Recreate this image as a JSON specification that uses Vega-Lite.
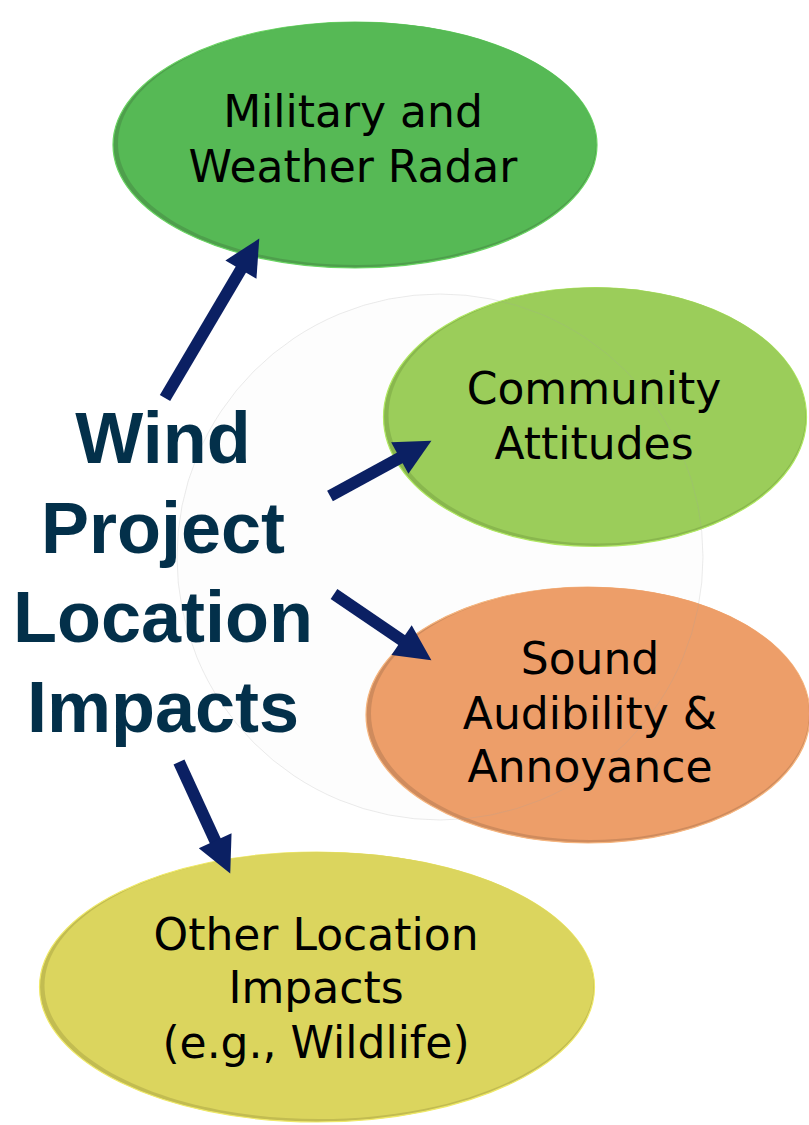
{
  "$schema": "https://vega.github.io/schema/vega-lite/v6.json",
  "width": 809,
  "height": 1125,
  "autosize": "none",
  "padding": 0,
  "background": "white",
  "config": {"view": {"stroke": null}},
  "datasets": {
    "nodes": [
      {"node": "Military", "x": 355, "y": 145},
      {"node": "Community", "x": 595, "y": 417},
      {"node": "Sound", "x": 588, "y": 715},
      {"node": "Other", "x": 317, "y": 987}
    ],
    "frame": [{"x": 440, "y": 557}],
    "arrows": [
      {"target": "Military", "x": 165, "y": 398, "x2": 243.7, "y2": 264.8, "hx": 250.1, "hy": 254.1, "angle": 30.6},
      {"target": "Community", "x": 330, "y": 496, "x2": 404.7, "y2": 455.3, "hx": 415.6, "hy": 449.4, "angle": 61.4},
      {"target": "Sound", "x": 334, "y": 594, "x2": 406.2, "y2": 643.1, "hx": 416.5, "hy": 650.2, "angle": 124.2},
      {"target": "Other", "x": 179, "y": 762, "x2": 217.5, "y2": 845.8, "hx": 222.7, "hy": 857.1, "angle": 155.3}
    ],
    "labels": [
      {"text": "Military and", "x": 353, "y": 127},
      {"text": "Weather Radar", "x": 353, "y": 182},
      {"text": "Community", "x": 594, "y": 404},
      {"text": "Attitudes", "x": 594, "y": 459},
      {"text": "Sound", "x": 590, "y": 674},
      {"text": "Audibility &", "x": 590, "y": 729},
      {"text": "Annoyance", "x": 590, "y": 782},
      {"text": "Other Location", "x": 316, "y": 950},
      {"text": "Impacts", "x": 316, "y": 1003},
      {"text": "(e.g., Wildlife)", "x": 316, "y": 1058}
    ],
    "title": [
      {"text": "Wind", "x": 163, "y": 463},
      {"text": "Project", "x": 163, "y": 553},
      {"text": "Location", "x": 163, "y": 642},
      {"text": "Impacts", "x": 163, "y": 732}
    ]
  },
  "encoding": {
    "x": {"field": "x", "type": "quantitative", "scale": {"domain": [0, 809], "nice": false, "zero": false}, "axis": null},
    "y": {"field": "y", "type": "quantitative", "scale": {"domain": [0, 1125], "nice": false, "zero": false, "reverse": true}, "axis": null}
  },
  "resolve": {"scale": {"shape": "independent", "fill": "independent", "stroke": "independent"}},
  "layer": [
    {
      "data": {"name": "frame"},
      "mark": {"type": "point", "shape": "circle", "size": 276676, "filled": true, "fill": "#fcfcfc", "strokeWidth": 0}
    },
    {
      "data": {"name": "nodes"},
      "mark": {"type": "point", "filled": true, "opacity": 1, "strokeWidth": 1.2, "size": 360000},
      "encoding": {
        "shape": {"field": "node", "type": "nominal", "legend": null, "scale": {"domain": ["Military", "Community", "Sound", "Other"], "range": ["M-0.80667,0A0.80667,0.41,0,1,1,0.80667,0A0.80667,0.41,0,1,1,-0.80667,0Z", "M-0.705,0A0.705,0.43167,0,1,1,0.705,0A0.705,0.43167,0,1,1,-0.705,0Z", "M-0.74,0A0.74,0.42667,0,1,1,0.74,0A0.74,0.42667,0,1,1,-0.74,0Z", "M-0.925,0A0.925,0.45,0,1,1,0.925,0A0.925,0.45,0,1,1,-0.925,0Z"]}},
        "fill": {"field": "node", "type": "nominal", "legend": null, "scale": {"domain": ["Military", "Community", "Sound", "Other"], "range": ["#4e9f4c", "#89b74e", "#cf8b5d", "#c2bc51"]}},
        "stroke": {"field": "node", "type": "nominal", "legend": null, "scale": {"domain": ["Military", "Community", "Sound", "Other"], "range": ["#6ad563", "#b0e862", "#f6b57e", "#efe968"]}}
      }
    },
    {
      "data": {"name": "nodes"},
      "mark": {"type": "point", "filled": true, "opacity": 1, "strokeWidth": 0, "size": 360000, "xOffset": 2, "yOffset": -1.5},
      "encoding": {
        "shape": {"field": "node", "type": "nominal", "legend": null, "scale": {"domain": ["Military", "Community", "Sound", "Other"], "range": ["M-0.79667,0A0.79667,0.405,0,1,1,0.79667,0A0.79667,0.405,0,1,1,-0.79667,0Z", "M-0.695,0A0.695,0.42667,0,1,1,0.695,0A0.695,0.42667,0,1,1,-0.695,0Z", "M-0.73,0A0.73,0.42167,0,1,1,0.73,0A0.73,0.42167,0,1,1,-0.73,0Z", "M-0.915,0A0.915,0.445,0,1,1,0.915,0A0.915,0.445,0,1,1,-0.915,0Z"]}},
        "fill": {"field": "node", "type": "nominal", "legend": null, "scale": {"domain": ["Military", "Community", "Sound", "Other"], "range": ["#56b955", "#9bcd5a", "#ed9e69", "#dbd55e"]}}
      }
    },
    {
      "data": {"name": "frame"},
      "mark": {"type": "point", "shape": "circle", "size": 276676, "filled": false, "stroke": "#a0a0a0", "strokeOpacity": 0.3, "strokeWidth": 1, "fill": null}
    },
    {
      "data": {"name": "arrows"},
      "mark": {"type": "rule", "color": "#0b2063", "strokeWidth": 12, "strokeCap": "butt"},
      "encoding": {
        "x2": {"field": "x2"},
        "y2": {"field": "y2"}
      }
    },
    {
      "data": {"name": "arrows"},
      "mark": {"type": "point", "filled": true, "shape": "M0,-1L1,1L-1,1Z", "size": 1300, "color": "#0b2063", "opacity": 1},
      "encoding": {
        "x": {"field": "hx", "type": "quantitative"},
        "y": {"field": "hy", "type": "quantitative"},
        "angle": {"field": "angle", "type": "quantitative", "scale": null}
      }
    },
    {
      "data": {"name": "labels"},
      "mark": {"type": "text", "font": "DejaVu Sans", "fontSize": 44, "color": "#000000", "align": "center", "baseline": "alphabetic"},
      "encoding": {"text": {"field": "text"}}
    },
    {
      "data": {"name": "title"},
      "mark": {"type": "text", "font": "Liberation Sans", "fontWeight": "bold", "fontSize": 72, "color": "#03304a", "align": "center", "baseline": "alphabetic"},
      "encoding": {"text": {"field": "text"}}
    }
  ]
}
